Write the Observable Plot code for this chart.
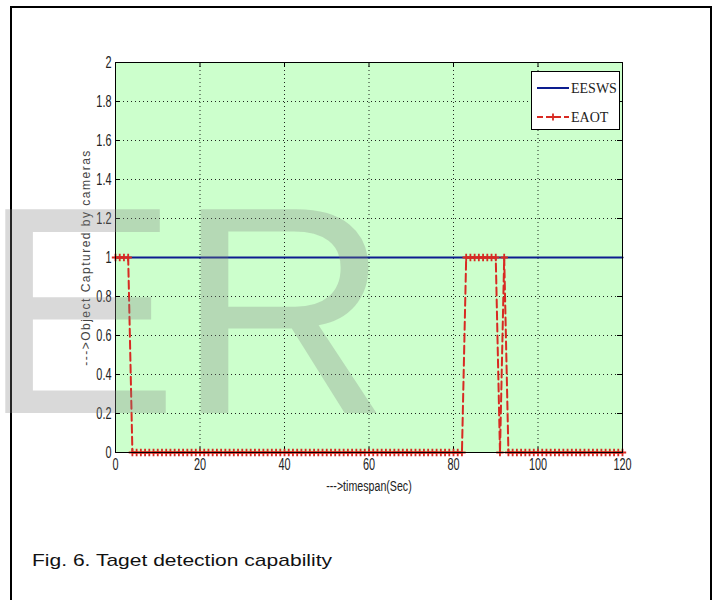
<!DOCTYPE html>
<html><head><meta charset="utf-8">
<script src="https://cdn.jsdelivr.net/npm/d3@7"></script>
<script src="https://cdn.jsdelivr.net/npm/@observablehq/plot@0.6"></script>
<style>
body{margin:0;background:#fff}
#fig{position:relative;width:715px;height:600px;overflow:hidden;background:#fff}
#border{position:absolute;left:10px;top:6px;width:698px;height:700px;border:2px solid #000}
#chart{position:absolute;left:0;top:0}
#overlay{position:absolute;left:0;top:0;pointer-events:none}
</style></head><body>
<div id="fig"><div id="border"></div><div id="chart"></div><svg id="overlay" width="715" height="600"></svg></div>
<script>
// ---- data ----
const timeSec = [
  0,1,2,3,4,5,6,7,8,9,
  10,11,12,13,14,15,16,17,18,19,
  20,21,22,23,24,25,26,27,28,29,
  30,31,32,33,34,35,36,37,38,39,
  40,41,42,43,44,45,46,47,48,49,
  50,51,52,53,54,55,56,57,58,59,
  60,61,62,63,64,65,66,67,68,69,
  70,71,72,73,74,75,76,77,78,79,
  80,81,82,83,84,85,86,87,88,89,
  90,91,92,93,94,95,96,97,98,99,
  100,101,102,103,104,105,106,107,108,109,
  110,111,112,113,114,115,116,117,118,119,
  120
];
const eaotValue = [
  1,1,1,1,0,0,0,0,0,0,
  0,0,0,0,0,0,0,0,0,0,
  0,0,0,0,0,0,0,0,0,0,
  0,0,0,0,0,0,0,0,0,0,
  0,0,0,0,0,0,0,0,0,0,
  0,0,0,0,0,0,0,0,0,0,
  0,0,0,0,0,0,0,0,0,0,
  0,0,0,0,0,0,0,0,0,0,
  0,0,0,1,1,1,1,1,1,1,
  1,0,1,0,0,0,0,0,0,0,
  0,0,0,0,0,0,0,0,0,0,
  0,0,0,0,0,0,0,0,0,0,
  0
];
const eeswsTime = [0, 120];
const eeswsValue = [1, 1];
const seriesNames = ["EESWS", "EAOT"];
const seriesColors = ["#0c1d8f", "#d82a22"];
const xTicks = [0, 20, 40, 60, 80, 100, 120];
const xTickLabels = ["0", "20", "40", "60", "80", "100", "120"];
const yTicks = [0, 0.2, 0.4, 0.6, 0.8, 1, 1.2, 1.4, 1.6, 1.8, 2];
const yTickLabels = ["0", "0.2", "0.4", "0.6", "0.8", "1", "1.2", "1.4", "1.6", "1.8", "2"];
const xLabel = "--->timespan(Sec)";
const yLabel = "--->Object Captured by cameras";
const captionText = "Fig. 6. Taget detection capability";
const watermarkText = "ER";

// ---- chart ----
const eaot = timeSec.map((t, i) => ({t, v: eaotValue[i]}));
const eesws = eeswsTime.map((t, i) => ({t, v: eeswsValue[i]}));
const W = 715, H = 520, mL = 115, mR = 93, mT = 62, mB = 68;
const pw = W - mL - mR, ph = H - mT - mB;
const tk = 5;
const sans = "'Liberation Sans',Arial,sans-serif";

const chart = Plot.plot({
  width: W, height: H,
  marginLeft: mL, marginRight: mR, marginTop: mT, marginBottom: mB,
  x: {domain: [0, 120]},
  y: {domain: [0, 2]},
  style: {fontFamily: sans, fontSize: "16px", color: "#222", background: "transparent"},
  marks: [
    Plot.frame({fill: "#ccffcc"}),
    Plot.gridX({ticks: xTicks.slice(1, -1), stroke: "#000", strokeOpacity: 0.85, strokeDasharray: "1,3"}),
    Plot.gridY({ticks: yTicks.slice(1, -1), stroke: "#000", strokeOpacity: 0.85, strokeDasharray: "1,3"}),
    Plot.ruleX(xTicks, {stroke: "#000", insetTop: ph - tk}),
    Plot.ruleX(xTicks, {stroke: "#000", insetBottom: ph - tk}),
    Plot.ruleY(yTicks, {stroke: "#000", insetRight: pw - tk}),
    Plot.ruleY(yTicks, {stroke: "#000", insetLeft: pw - tk}),
    Plot.axisX({ticks: xTicks, tickFormat: d => xTickLabels[xTicks.indexOf(d)], tickSize: 0, tickPadding: 6, label: null}),
    Plot.axisY({ticks: yTicks, tickFormat: d => yTickLabels[yTicks.indexOf(d)], tickSize: 0, tickPadding: 4, label: null}),
    Plot.text([xLabel], {text: d => d, frameAnchor: "bottom", dy: 38, fontSize: 14, fill: "#222"}),
    Plot.text([yLabel], {text: d => d, frameAnchor: "left", textAnchor: "middle", dx: -29, rotate: -90, fontFamily: sans, fontSize: 12, fill: "#444"}),
    Plot.line(eesws, {x: "t", y: "v", stroke: seriesColors[0], strokeWidth: 2.2}),
    Plot.line(eaot, {x: "t", y: "v", stroke: seriesColors[1], strokeWidth: 2, strokeDasharray: "8,4"}),
    Plot.dot(eaot, {x: "t", y: "v", symbol: "plus", r: 2.5, stroke: seriesColors[1], strokeWidth: 1.8}),
    Plot.frame({stroke: "#000"})
  ]
});
document.getElementById("chart").appendChild(chart);

// narrow (condensed) look for the tick labels and x label, as in the reference
const condense = (sel, f) => sel.each(function() {
  const len = this.getComputedTextLength();
  if (len > 0) {
    this.setAttribute("textLength", (len * f).toFixed(2));
    this.setAttribute("lengthAdjust", "spacingAndGlyphs");
  }
});
const svg = d3.select(chart);
condense(svg.selectAll('g[aria-label="x-axis tick label"] text'), 0.68);
condense(svg.selectAll('g[aria-label="y-axis tick label"] text'), 0.68);
condense(svg.selectAll("text").filter(function(){ return this.textContent === xLabel; }), 0.76);
svg.selectAll("text").filter(function(){ return this.textContent === yLabel; })
  .style("letter-spacing", "1.5px");

// ---- overlay: watermark, legend, caption ----
const ov = d3.select("#overlay");
ov.append("text").text(watermarkText)
  .attr("x", -19).attr("y", 413)
  .attr("font-family", sans).attr("font-size", 296)
  .attr("letter-spacing", -2)
  .attr("fill", "#808080").attr("fill-opacity", 0.3);

const lg = ov.append("g");
lg.append("rect").attr("x", 531.5).attr("y", 71.5).attr("width", 88).attr("height", 58)
  .attr("fill", "#fff").attr("stroke", "#000");
const rows = [88, 117];
seriesNames.forEach((name, i) => {
  const y = rows[i];
  lg.append("line").attr("x1", 537).attr("x2", 569).attr("y1", y).attr("y2", y)
    .attr("stroke", seriesColors[i]).attr("stroke-width", 2)
    .attr("stroke-dasharray", i === 1 ? "6,3" : null);
  if (i === 1) {
    lg.append("path").attr("d", `M549.5,${y}h7M553,${y - 3.5}v7`)
      .attr("stroke", seriesColors[i]).attr("stroke-width", 1.8).attr("fill", "none");
  }
  lg.append("text").text(name).attr("x", 571).attr("y", y).attr("dy", "0.35em")
    .attr("font-family", "'Liberation Serif','Times New Roman',serif").attr("font-size", 14)
    .attr("fill", "#222");
});

ov.append("text").text(captionText)
  .attr("x", 32).attr("y", 566)
  .attr("font-family", sans).attr("font-size", 17)
  .attr("textLength", 300).attr("lengthAdjust", "spacingAndGlyphs")
  .attr("fill", "#111");
</script>
</body></html>
